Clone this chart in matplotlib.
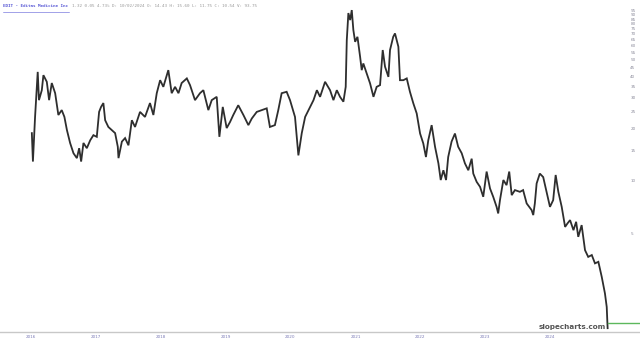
import matplotlib
matplotlib.use("Agg")
import matplotlib.pyplot as plt
import matplotlib.dates as mdates
import pandas as pd
from matplotlib.lines import Line2D

# EDIT closing prices
dates = [
    "2016-02-05", "2016-02-11", "2016-02-23", "2016-03-09", "2016-03-16", "2016-04-01",
    "2016-04-10", "2016-04-29", "2016-05-12", "2016-05-27", "2016-06-15", "2016-07-03",
    "2016-07-22", "2016-08-06", "2016-08-20", "2016-09-07", "2016-09-26", "2016-10-15",
    "2016-10-28", "2016-11-08", "2016-11-21", "2016-12-10", "2016-12-29", "2017-01-16",
    "2017-02-04", "2017-02-17", "2017-02-28", "2017-03-13", "2017-03-23", "2017-04-10",
    "2017-04-29", "2017-05-18", "2017-06-02", "2017-06-06", "2017-06-25", "2017-07-13",
    "2017-08-01", "2017-08-20", "2017-09-07", "2017-10-05", "2017-11-02", "2017-11-30",
    "2017-12-19", "2018-01-07", "2018-01-26", "2018-02-13", "2018-03-13", "2018-04-01",
    "2018-04-20", "2018-05-09", "2018-05-27", "2018-06-25", "2018-07-13", "2018-08-10",
    "2018-09-07", "2018-09-26", "2018-10-24", "2018-11-12", "2018-12-10", "2018-12-25",
    "2019-01-13", "2019-02-04", "2019-02-23", "2019-03-13", "2019-04-10", "2019-05-09",
    "2019-06-06", "2019-06-25", "2019-07-23", "2019-08-20", "2019-09-17", "2019-10-05",
    "2019-11-02", "2019-11-21", "2019-12-10", "2020-01-07", "2020-01-26", "2020-02-23",
    "2020-03-13", "2020-04-01", "2020-04-20", "2020-05-18", "2020-06-06", "2020-06-25",
    "2020-07-13", "2020-08-10", "2020-09-07", "2020-09-26", "2020-10-15", "2020-11-02",
    "2020-11-21", "2020-12-04", "2020-12-10", "2020-12-19", "2020-12-29", "2021-01-07",
    "2021-01-16", "2021-01-26", "2021-02-08", "2021-02-23", "2021-03-04", "2021-03-13",
    "2021-04-01", "2021-04-20", "2021-05-09", "2021-05-27", "2021-06-15", "2021-06-30",
    "2021-07-13", "2021-08-01", "2021-08-10", "2021-08-28", "2021-09-07", "2021-09-26",
    "2021-10-05", "2021-10-24", "2021-11-12", "2021-11-30", "2021-12-19", "2022-01-07",
    "2022-01-26", "2022-02-13", "2022-02-28", "2022-03-13", "2022-04-01", "2022-04-20",
    "2022-05-09", "2022-05-22", "2022-06-06", "2022-06-21", "2022-07-03", "2022-07-22",
    "2022-08-10", "2022-08-28", "2022-09-17", "2022-10-05", "2022-10-24", "2022-11-12",
    "2022-11-21", "2022-12-10", "2022-12-29", "2023-01-16", "2023-02-04", "2023-02-23",
    "2023-03-13", "2023-04-01", "2023-04-10", "2023-04-20", "2023-05-09", "2023-05-27",
    "2023-06-11", "2023-06-25", "2023-07-13", "2023-08-10", "2023-08-28", "2023-09-17",
    "2023-10-15", "2023-10-24", "2023-11-02", "2023-11-12", "2023-11-30", "2023-12-19",
    "2024-01-07", "2024-01-26", "2024-02-13", "2024-02-27", "2024-03-13", "2024-04-01",
    "2024-04-20", "2024-05-03", "2024-05-18", "2024-06-06", "2024-06-21", "2024-07-03",
    "2024-07-22", "2024-08-10", "2024-08-28", "2024-09-17", "2024-10-05", "2024-10-24",
    "2024-11-12", "2024-11-30", "2024-12-10", "2024-12-15",
]
closes = [
    18.8, 12.9, 23.2, 42.3, 29.1, 33.2,
    40.5, 37.1, 29.1, 36.5, 31.9, 23.9,
    25.5, 23.3, 19.6, 16.5, 14.4, 13.5,
    15.4, 12.9, 16.5, 15.4, 17.1, 18.3,
    17.9, 24.9, 26.6, 28.0, 22.3, 20.4,
    19.6, 18.8, 15.7, 13.5, 16.8, 17.6,
    16.0, 22.3, 20.4, 24.9, 23.3, 28.0,
    23.9, 31.9, 37.9, 34.7, 43.3, 31.9,
    34.7, 31.9, 36.5, 38.8, 35.5, 29.1,
    31.9, 33.2, 25.5, 29.1, 30.4, 17.9,
    26.6, 20.1, 21.8, 23.9, 27.2, 23.9,
    20.9, 22.8, 24.9, 25.5, 26.1, 20.4,
    20.9, 25.5, 31.9, 32.5, 29.1, 23.3,
    14.0, 18.8, 23.3, 26.6, 29.1, 33.2,
    30.4, 37.1, 33.2, 29.1, 33.2, 30.4,
    28.5, 34.7, 64.4, 92.2, 84.0, 95.9,
    73.6, 63.0, 67.3, 51.6, 43.3, 47.3,
    41.4, 36.3, 30.4, 34.7, 35.5, 56.5,
    45.3, 39.6, 56.5, 67.3, 70.4, 59.0,
    37.9, 37.9, 38.8, 32.5, 27.9, 24.4,
    18.7, 16.4, 13.7, 17.1, 20.9, 15.7,
    12.6, 10.1, 11.5, 10.1, 13.7, 16.8,
    18.7, 15.7, 14.4, 12.6, 11.5, 13.4,
    11.0, 9.86, 9.23, 8.09, 11.3, 9.04,
    8.09, 7.08, 6.49, 7.74, 10.1, 9.44,
    11.3, 8.27, 8.84, 8.64, 8.84, 7.41,
    6.78, 6.35, 7.41, 9.65, 11.0, 10.5,
    8.64, 7.08, 7.74, 10.8, 8.64, 7.08,
    5.43, 5.68, 5.94, 5.20, 5.81, 4.76,
    5.56, 3.99, 3.65, 3.74, 3.35, 3.42,
    2.80, 2.25, 1.88, 1.42,
]
last_price = 1.52
years = ["2016", "2017", "2018", "2019", "2020", "2021", "2022", "2023", "2024"]
price_ticks = list(range(5, 100, 5))

x = pd.to_datetime(dates)

fig = plt.figure(figsize=(6.4, 3.43), dpi=100)
ax = fig.add_axes([0, 11 / 343, 1, 332 / 343])

ax.plot(x, closes, color="#2e2e2e", linewidth=1.3, solid_joinstyle="miter")
ax.plot([x[-1], pd.Timestamp("2025-07-01")], [last_price, last_price],
        color="#5cb85c", linewidth=1.0)

ax.set_yscale("log")
ax.set_ylim(1.35, 109.6)
ax.set_xlim(pd.Timestamp("2015-08-10"), pd.Timestamp("2025-06-15"))

ax.set_yticks(price_ticks)
ax.set_yticklabels([str(p) for p in price_ticks])
ax.yaxis.set_minor_locator(matplotlib.ticker.NullLocator())
ax.yaxis.tick_right()
ax.tick_params(axis="y", length=0, pad=-7, labelsize=3, labelcolor="#8a8a9a")

ax.set_xticks(pd.to_datetime([y + "-01-28" for y in years]))
ax.set_xticklabels(years)
ax.tick_params(axis="x", length=0, pad=2, labelsize=3, labelcolor="#7d7db8")

for s in ["top", "left", "right"]:
    ax.spines[s].set_visible(False)
ax.spines["bottom"].set_color("#c8c8c8")
ax.spines["bottom"].set_linewidth(1.0)

fig.text(0.004, 0.988, "EDIT - Editas Medicine Inc", fontsize=3.1,
         family="DejaVu Sans Mono", weight="bold", color="#5b5bd6", va="top")
fig.add_artist(Line2D([0.004, 0.108], [0.966, 0.966], color="#5b5bd6", linewidth=0.4))
fig.text(0.113, 0.988,
         "1.32 0.05 4.73% D: 10/02/2024 O: 14.43 H: 15.60 L: 11.75 C: 10.54 V: 93.75",
         fontsize=3.1, family="DejaVu Sans Mono", color="#9a9a9a", va="top")

fig.text(0.947, 0.037, "slopecharts.com", fontsize=5.2, weight="bold",
         color="#555555", ha="right", va="bottom")

fig.savefig("out.png", dpi=100)
